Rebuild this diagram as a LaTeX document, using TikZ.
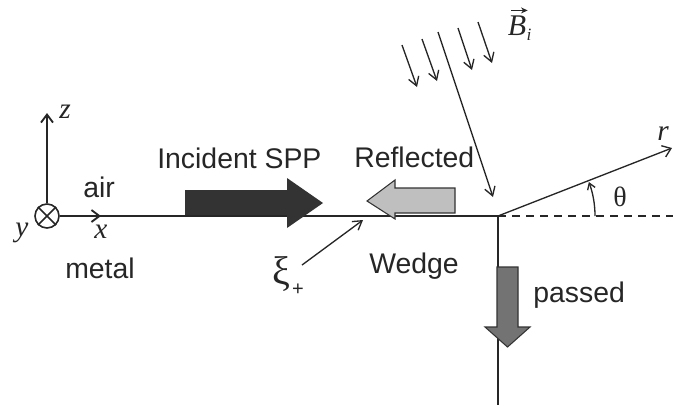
\documentclass[tikz,border=0pt]{standalone}
\usepackage{fontspec}
\setmainfont{Liberation Serif}
\setsansfont{Liberation Sans}
\usetikzlibrary{arrows.meta}

\begin{document}
\begin{tikzpicture}[x=0.75pt,y=-0.75pt,
  ink/.style={draw=black!85},
  axis/.style={ink, line width=1.4pt},
  surface/.style={ink, line width=2pt},
  fine/.style={ink, line width=1pt},
  barb/.style={-{Straight Barb[length=6pt,width=9pt]}},
  smallbarb/.style={-{Straight Barb[length=6.5pt,width=8pt]}},
  slab/.style={draw=black!80, line width=0.8pt},
  word/.style={font=\sffamily\fontsize{21.3}{24}\selectfont, text=black!85, inner sep=0, anchor=base west},
  var/.style={font=\itshape\fontsize{22}{24}\selectfont, text=black!85, inner sep=0},
  greek/.style={font=\fontsize{21}{24}\selectfont, text=black!85, inner sep=0}
]
\useasboundingbox (0,0) rectangle (673,405);

% key points
\coordinate (edge) at (498,216);
\coordinate (bottom) at (498,405);
\coordinate (ztip) at (47,113);
\coordinate (xtip) at (101,216);
\coordinate (rtip) at (672,148);
\coordinate (dashend) at (673,216);

% coordinate system
\node (origin) [circle, draw=black!85, line width=1.2pt, minimum size=18pt, inner sep=0] at (47,216) {};
\draw[fine, line width=1.1pt] (origin.45) -- (origin.225) (origin.135) -- (origin.315);
\draw[axis, barb] (origin.north) -- (ztip);

% metal boundary: horizontal face and vertical face of the wedge
\draw[surface] (origin.east) -- (edge) -- (bottom);
\draw[axis, barb] (origin.east) -- (xtip);

% dashed continuation, reflected ray r and angle theta
\draw[ink, line width=0.9pt, dash pattern=on 6pt off 4.5pt] (edge) -- (dashend);
\draw[fine, barb] (edge) -- (rtip);
\draw[fine, -{Straight Barb[length=4.5pt,width=6pt]}] (edge) ++(97,0) arc[start angle=0, end angle=-20.5, radius=97];

% incident SPP (dark arrow)
\fill[black!80] (185,190) -- (287,190) -- (287,178) -- (323,203) -- (287,228)
  -- (287,215) -- (185,215) -- cycle;
% reflected wave (light arrow)
\filldraw[slab, fill=black!25] (455,188) -- (395,188) -- (395,180) -- (367,201)
  -- (395,219) -- (395,213) -- (455,213) -- cycle;
% passed wave (grey arrow)
\filldraw[slab, fill=black!55] (497,267) -- (518,267) -- (518,327) -- (530,327)
  -- (507.5,347) -- (485,327) -- (497,327) -- cycle;

% incoming field B_i
\coordinate (b1s) at (402,45);  \coordinate (b1e) at (417,87);
\coordinate (b2s) at (422,39);  \coordinate (b2e) at (437,81);
\coordinate (b3s) at (438,32);  \coordinate (b3e) at (493,197);
\coordinate (b4s) at (458,28);  \coordinate (b4e) at (472,70);
\coordinate (b5s) at (478,22);  \coordinate (b5e) at (492,63);
\foreach \k in {1,...,5} \draw[fine, smallbarb] (b\k s) -- (b\k e);

% pointer to the edge singularity
\coordinate (xifrom) at (302,265);
\coordinate (xito) at (363,220);
\draw[fine, smallbarb] (xifrom) -- (xito);

% labels
\node[var] (zlab) at (65,112) {z};
\node[var] (ylab) at (22,233) {y};
\node[var] (xlab) at (101,232) {x};
\node[var] (rlab) at (663,134) {r};
\node[var, font=\itshape\fontsize{22.5}{24}\selectfont, anchor=base] (blab) at (517,35) {B};
\node[var, font=\itshape\fontsize{13}{14}\selectfont, anchor=base west] (bsub) at (blab.base east) {\raisebox{-4pt}{i}};
\draw[ink, line width=0.8pt, -{Stealth[length=5pt,width=4.5pt]}] ([xshift=-4.5pt,yshift=3.5pt]blab.north) -- ([xshift=8pt,yshift=3.5pt]blab.north);
\node[greek] (theta) at (620,197) {θ};
\node[greek, font=\fontsize{30}{31}\selectfont] (xi) at (281,274) {ξ};
\node[font=\sffamily\fontsize{15}{16}\selectfont, text=black!85, inner sep=0] (xisub) at (298,290) {+};

\node[word] (air) at (83,197) {air};
\node[word] (metal) at (65,278) {metal};
\node[word] (incident) at (157,168) {Incident SPP};
\node[word] (reflected) at (354,167) {Reflected};
\node[word] (wedge) at (369,273) {Wedge};
\node[word] (passed) at (533,302) {passed};
\end{tikzpicture}
\end{document}
